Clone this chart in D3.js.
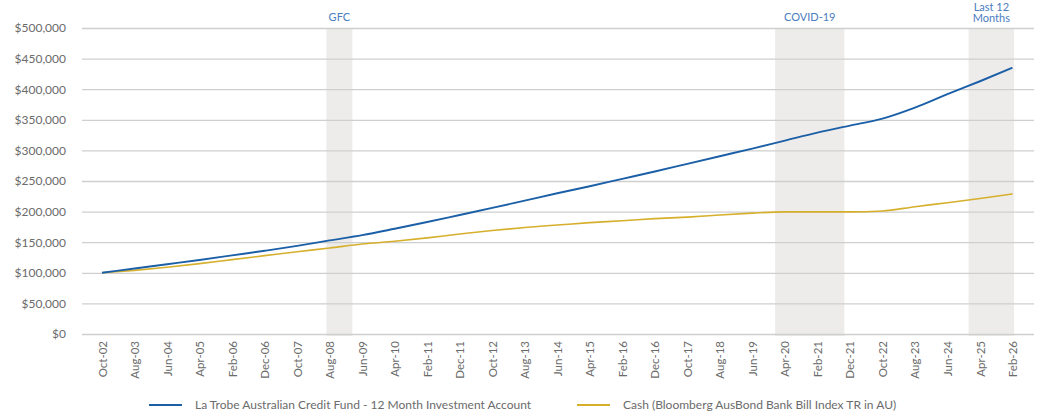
<!DOCTYPE html>
<html>
<head>
<meta charset="utf-8">
<script src="https://cdn.jsdelivr.net/npm/d3@7"></script>
<style>
  body { margin: 0; background: #fff; }
  text { font-family: Lato, "Open Sans", sans-serif; }
</style>
</head>
<body>
<div id="chart"></div>
<script>
var svgWidth = 1037;
var svgHeight = 414;

// tick labels, one every 10 months from Oct-02
var monthLabels = ["Oct-02", "Aug-03", "Jun-04", "Apr-05", "Feb-06", "Dec-06", "Oct-07",
    "Aug-08", "Jun-09", "Apr-10", "Feb-11", "Dec-11", "Oct-12", "Aug-13", "Jun-14",
    "Apr-15", "Feb-16", "Dec-16", "Oct-17", "Aug-18", "Jun-19", "Apr-20", "Feb-21",
    "Dec-21", "Oct-22", "Aug-23", "Jun-24", "Apr-25", "Feb-26"];

// growth of $100,000 (in $000), read at each label month
var laTrobe = [100, 107, 114, 121, 128.5, 136, 144, 153, 161.5, 172, 183, 194.5, 206,
    218, 230, 241.5, 253.5, 265.5, 278, 290.5, 303, 316, 329, 340.5, 352, 370,
    392, 413, 435];
var cash = [100, 104, 109, 115, 121.5, 128, 134.5, 140.5, 147, 151.5, 157, 163.5, 169,
    174, 178, 182, 185, 188.5, 191, 194.5, 197.5, 199.5, 199.5, 199.5, 201, 208,
    214.5, 221.5, 229];

var yTicks = [0, 50000, 100000, 150000, 200000, 250000, 300000, 350000, 400000, 450000, 500000];

// shaded periods, in months since Oct-02
var bandNames = [["GFC"], ["COVID-19"], ["Last 12", "Months"]];
var bandStart = [69, 207, 266.5];
var bandEnd = [77, 228.3, 280.5];

var seriesNames = ["La Trobe Australian Credit Fund - 12 Month Investment Account",
    "Cash (Bloomberg AusBond Bank Bill Index TR in AU)"];
var seriesColors = ["#1b5fa7", "#d6b02c"];

var plotLeft = 82, plotRight = 1034, plotTop = 28, plotBottom = 334;

var svg = d3.select("#chart")
    .append("svg")
        .attr("width", svgWidth)
        .attr("height", svgHeight);

var x = d3.scaleLinear()
    .domain([0, 280])
    .range([102, 1012.5]);

var y = d3.scaleLinear()
    .domain([0, 500000])
    .range([plotBottom, plotTop]);

// shaded bands
bandNames.forEach(function(name, i) {
    svg.append("rect")
        .attr("x", x(bandStart[i]))
        .attr("y", plotTop)
        .attr("width", x(bandEnd[i]) - x(bandStart[i]))
        .attr("height", plotBottom - plotTop + 2)
        .style("fill", "#edecea");

    var cx = (x(bandStart[i]) + x(bandEnd[i])) / 2;
    var firstBase = name.length > 1 ? 11 : 21;
    name.forEach(function(line, j) {
        svg.append("text")
            .attr("x", cx)
            .attr("y", firstBase + j * 11)
            .attr("text-anchor", "middle")
            .style("font-size", "11px")
            .style("fill", "#4a7cc0")
            .text(line);
    });
});

// gridlines + y labels
var yAxis = d3.axisLeft(y)
    .tickValues(yTicks)
    .tickSize(-(plotRight - plotLeft))
    .tickPadding(16)
    .tickFormat(function(d) { return "$" + d3.format(",")(d); });

var yG = svg.append("g")
    .attr("transform", "translate(" + plotLeft + ",0)")
    .call(yAxis);
yG.select(".domain").remove();
yG.selectAll("line").style("stroke", "#cfcfcf").style("stroke-width", 1.3);
yG.selectAll("text")
    .style("font-size", "12px")
    .style("fill", "#6b6b6b")
    .style("font-family", "Lato, sans-serif");

// x axis labels
var xAxis = d3.axisBottom(x)
    .tickValues(monthLabels.map(function(d, i) { return i * 10; }))
    .tickSize(0)
    .tickFormat(function(d) { return monthLabels[d / 10]; });

var xG = svg.append("g")
    .attr("transform", "translate(0," + plotBottom + ")")
    .call(xAxis);
xG.select(".domain").remove();
xG.selectAll("text")
    .attr("transform", "rotate(-90)")
    .attr("x", -7)
    .attr("y", 0)
    .attr("dy", "0.35em")
    .style("text-anchor", "end")
    .style("font-size", "11.5px")
    .style("fill", "#6b6b6b")
    .style("font-family", "Lato, sans-serif");

// lines
var line = d3.line()
    .x(function(d, i) { return x(i * 10); })
    .y(function(d) { return y(d * 1000); })
    .curve(d3.curveMonotoneX);

svg.append("path")
    .style("stroke", seriesColors[1])
    .style("stroke-width", 1.6)
    .style("fill", "none")
    .attr("d", line(cash));

svg.append("path")
    .style("stroke", seriesColors[0])
    .style("stroke-width", 1.9)
    .style("fill", "none")
    .attr("d", line(laTrobe));

// legend
var legendX = [149, 577];
seriesNames.forEach(function(name, i) {
    svg.append("line")
        .attr("x1", legendX[i])
        .attr("x2", legendX[i] + 33)
        .attr("y1", 405)
        .attr("y2", 405)
        .style("stroke", seriesColors[i])
        .style("stroke-width", 2);
    svg.append("text")
        .attr("x", legendX[i] + 46)
        .attr("y", 409)
        .style("font-size", "12px")
        .style("fill", "#6b6b6b")
        .text(name);
});
</script>
</body>
</html>
